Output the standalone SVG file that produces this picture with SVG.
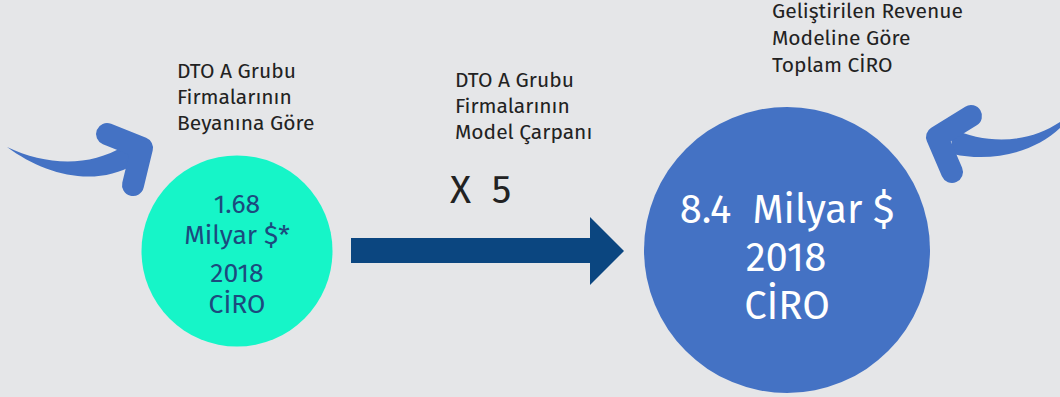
<svg xmlns="http://www.w3.org/2000/svg" width="1060" height="397" viewBox="0 0 1060 397">
<style>
.lbl{font-family:"Fira Sans","Noto Sans","Open Sans",sans-serif;font-size:21px;fill:#222}
.teal{font-family:"Fira Sans","Noto Sans","Open Sans",sans-serif;font-size:26.5px;fill:#1c4a7e;text-anchor:middle}
.big{font-family:"Fira Sans","Noto Sans","Open Sans",sans-serif;font-size:40px;fill:#fff;text-anchor:middle}
.curve{fill:#4472c4}
.chev{fill:none;stroke:#4472c4;stroke-width:22;stroke-linecap:round;stroke-linejoin:round}
</style>
<rect width="1060" height="397" fill="#e5e6e8"/>
<g id="connectors">
  <g id="left-curved-arrow">
    <path class="curve" d="M7,147 C45,175 95,188 135,164 L124,146 C88,168 45,165 7,147 Z"/>
    <polyline class="chev" points="107,134 142,148 133,185"/>
  </g>
  <g id="right-curved-arrow">
    <path class="curve" d="M1060,122 C1030,142 990,146 950,128 L953,154 C992,163 1035,152 1060,128 Z"/>
    <polyline class="chev" points="971,116 937,137 952,172"/>
  </g>
  <g id="main-arrow">
    <polygon fill="#0b4680" points="351,238 590,238 590,217 624,251 590,285 590,263 351,263"/>
  </g>
</g>
<g id="node-left">
  <circle cx="237" cy="251" r="95.5" fill="#16f5c8"/>
  <text class="teal" x="237" y="213">1.68</text>
  <text class="teal" x="237" y="244">Milyar $*</text>
  <text class="teal" x="237" y="282">2018</text>
  <text class="teal" x="237" y="313">CİRO</text>
</g>
<g id="node-right">
  <circle cx="787" cy="250" r="143" fill="#4472c4"/>
  <text class="big" x="787" y="223" xml:space="preserve">8.4  Milyar $</text>
  <text class="big" x="786" y="271">2018</text>
  <text class="big" x="787" y="319">CİRO</text>
</g>
<g id="label-left">
  <text class="lbl" x="177" y="78">DTO A Grubu</text>
  <text class="lbl" x="177" y="104">Firmalarının</text>
  <text class="lbl" x="177" y="130">Beyanına Göre</text>
</g>
<g id="label-middle">
  <text class="lbl" x="455" y="87">DTO A Grubu</text>
  <text class="lbl" x="455" y="113">Firmalarının</text>
  <text class="lbl" x="455" y="139">Model Çarpanı</text>
  <text class="lbl" x="450" y="203" style="font-size:39px" xml:space="preserve">X  5</text>
</g>
<g id="label-right">
  <text class="lbl" x="772" y="18">Geliştirilen Revenue</text>
  <text class="lbl" x="772" y="45">Modeline Göre</text>
  <text class="lbl" x="772" y="72">Toplam CİRO</text>
</g>
</svg>
